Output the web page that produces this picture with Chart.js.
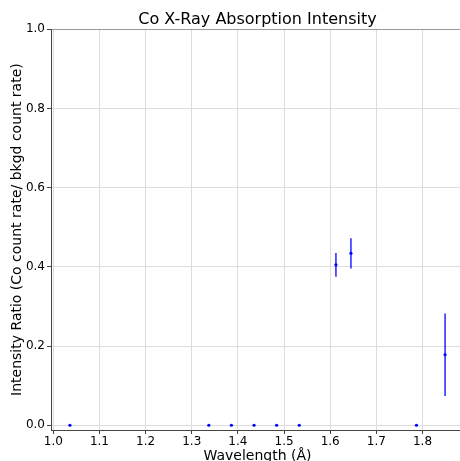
<!DOCTYPE html>
<html>
<head>
<meta charset="utf-8">
<script src="https://cdn.jsdelivr.net/npm/chart.js@4.4.0/dist/chart.umd.min.js"></script>
<style>
  html, body { margin: 0; padding: 0; background: #fff; overflow: hidden; }
  #wrap { width: 460px; height: 461px; overflow: hidden; }
</style>
</head>
<body>
<div id="wrap"><canvas id="absorptionChart" width="515" height="461"></canvas></div>
<script>
// Co absorption data
const wavelengths = [1.036, 1.337, 1.386, 1.435, 1.484, 1.533, 1.6125, 1.645, 1.787, 1.849];
const ratios      = [0,     0,     0,     0,     0,     0,     0.405,  0.434, 0,     0.178];
const ratioErrors = [0,     0,     0,     0,     0,     0,     0.030,  0.038, 0,     0.104];

const xTicks = [1.0, 1.1, 1.2, 1.3, 1.4, 1.5, 1.6, 1.7, 1.8];
const yTicks = [0.0, 0.2, 0.4, 0.6, 0.8, 1.0];

const points = wavelengths.map((w, i) => ({ x: w, y: ratios[i], err: ratioErrors[i] }));

// vertical error bars, drawn from the chart scales
const errorBars = {
  id: 'errorBars',
  afterDatasetsDraw(chart) {
    const { ctx, scales } = chart;
    ctx.save();
    ctx.strokeStyle = '#0000ff';
    ctx.lineWidth = 1.3;
    points.forEach(p => {
      if (!p.err) return;
      const px = scales.x.getPixelForValue(p.x);
      ctx.beginPath();
      ctx.moveTo(px, scales.y.getPixelForValue(p.y - p.err));
      ctx.lineTo(px, scales.y.getPixelForValue(p.y + p.err));
      ctx.stroke();
    });
    ctx.restore();
  }
};

// center the title over the plot frame rather than the padded box
const titleOverFrame = {
  id: 'titleOverFrame',
  afterLayout(chart) {
    const t = chart.titleBlock;
    if (t) {
      t.left = 0;
      t.right = chart.width;
    }
  }
};

const font = 'DejaVu Sans';

new Chart(document.getElementById('absorptionChart'), {
  type: 'scatter',
  data: {
    datasets: [{
      data: points,
      backgroundColor: '#0000ff',
      borderColor: '#0000ff',
      pointRadius: 1.6,
      pointBorderWidth: 0
    }]
  },
  plugins: [errorBars, titleOverFrame],
  options: {
    responsive: false,
    animation: false,
    layout: { padding: { left: 0, right: 51, top: 0, bottom: 0 } },
    plugins: {
      legend: { display: false },
      tooltip: { enabled: false },
      title: {
        display: true,
        text: 'Co X-Ray Absorption Intensity',
        color: '#000',
        font: { family: font, size: 16, weight: 'normal', lineHeight: 1.2 },
        padding: { top: 10, bottom: 0 }
      }
    },
    scales: {
      x: {
        type: 'linear',
        min: 0.995,
        max: 1.890,
        afterBuildTicks: s => { s.ticks = xTicks.map(v => ({ value: v })); },
        afterFit: s => { s.height = 31; s.paddingLeft = 0; s.paddingRight = 0; },
        ticks: {
          color: '#000',
          font: { family: font, size: 12 },
          padding: 1,
          maxRotation: 0,
          callback: v => v.toFixed(1)
        },
        grid: { color: '#dddddd', tickLength: 4, tickColor: '#444' },
        border: { color: '#444', width: 1 },
        title: {
          display: true,
          text: 'Wavelength (Å)',
          color: '#000',
          font: { family: font, size: 14 },
          padding: { top: 0, bottom: -4 }
        }
      },
      y: {
        type: 'linear',
        min: -0.012,
        max: 1.0,
        afterBuildTicks: s => { s.ticks = yTicks.map(v => ({ value: v })); },
        afterFit: s => { s.width = 51; s.paddingTop = 0; s.paddingBottom = 0; },
        ticks: {
          color: '#000',
          font: { family: font, size: 12 },
          padding: 2,
          callback: v => v.toFixed(1)
        },
        grid: {
          color: ctx => (ctx.tick && ctx.tick.value === 1.0 ? '#999' : '#dddddd'),
          tickLength: 4,
          tickColor: '#444'
        },
        border: { color: '#444', width: 1 },
        title: {
          display: true,
          text: 'Intensity Ratio (Co count rate/ bkgd count rate)',
          color: '#000',
          font: { family: font, size: 14 },
          padding: { top: 9, bottom: 0 }
        }
      }
    }
  }
});
</script>
</body>
</html>
